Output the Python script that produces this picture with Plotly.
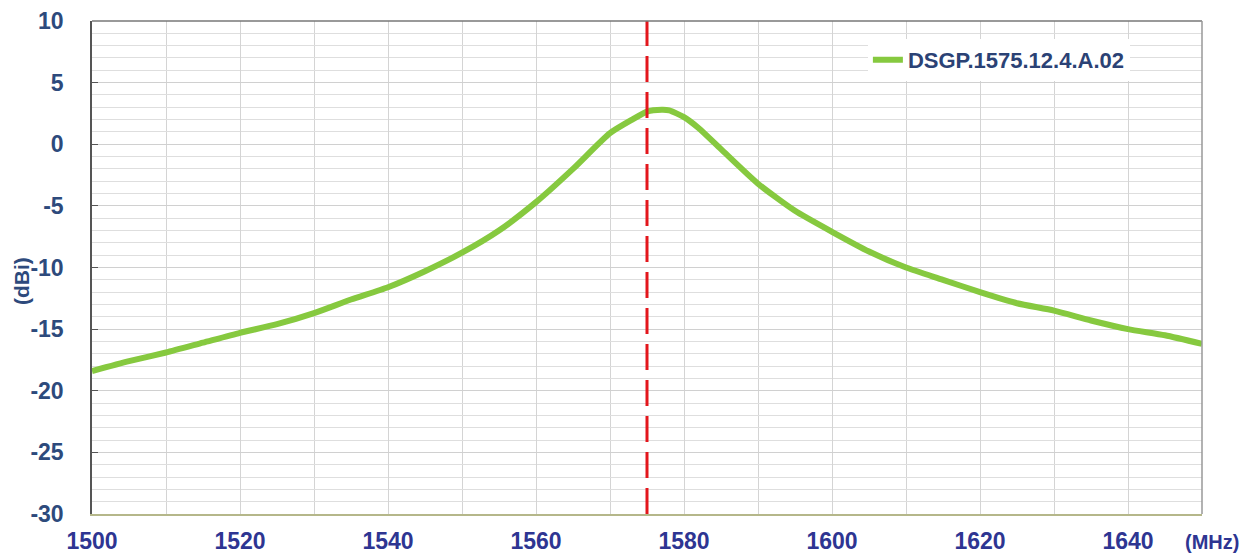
import plotly.graph_objects as go

freq = [1500, 1505, 1510, 1515, 1520, 1525, 1530, 1535, 1540, 1545, 1550, 1555, 1560, 1565, 1570, 1573, 1575, 1577, 1578, 1580, 1582, 1585, 1590, 1595, 1600, 1605, 1610, 1615, 1620, 1625, 1630, 1635, 1640, 1645, 1650]
gain = [-18.4, -17.6, -16.9, -16.1, -15.3, -14.6, -13.7, -12.6, -11.6, -10.3, -8.8, -7.0, -4.7, -2.0, 0.9, 2.0, 2.65, 2.8, 2.75, 2.2, 1.3, -0.4, -3.2, -5.4, -7.1, -8.7, -10.0, -11.0, -12.0, -12.9, -13.5, -14.3, -15.0, -15.5, -16.2]
series_name = "DSGP.1575.12.4.A.02"
center_freq = 1575
x_ticks = [1500, 1520, 1540, 1560, 1580, 1600, 1620, 1640]
y_ticks = [10, 5, 0, -5, -10, -15, -20, -25, -30]

FONT = "Liberation Sans, Arial, sans-serif"

fig = go.Figure()
fig.add_trace(go.Scatter(x=freq, y=gain, mode="lines", name=series_name,
                         line=dict(color="#86c93f", width=6, shape="spline", smoothing=0.6)))
fig.add_shape(type="line", x0=center_freq, x1=center_freq, y0=0, y1=1, xref="x", yref="paper",
              line=dict(color="#e3161c", width=3, dash="26px,10px"))

# page body has an 8px margin, so the figure is sized/offset accordingly
fig.update_layout(
    width=1239, height=547,
    margin=dict(l=84, r=45, t=13, b=41, autoexpand=False),
    paper_bgcolor="white", plot_bgcolor="white",
    font=dict(family=FONT),
    showlegend=True,
    legend=dict(x=0.699, y=0.921, xanchor="left", yanchor="middle", bgcolor="white",
                font=dict(size=22, color="#2b4275", family=FONT, weight="bold"),
                itemwidth=30),
    xaxis=dict(range=[1500, 1650], tickvals=x_ticks, ticktext=[str(v) for v in x_ticks],
               automargin=False,
               showgrid=True, gridcolor="#d4d4d4", gridwidth=1,
               minor=dict(dtick=10, tick0=1500, showgrid=True, gridcolor="#d4d4d4", gridwidth=1),
               showline=True, linecolor="#b5b78a", linewidth=1.5, mirror=False,
               ticks="", ticklabelstandoff=6,
               tickfont=dict(size=23, color="#2e3592", weight="bold"),
               zeroline=False),
    yaxis=dict(range=[-30, 10], tickvals=y_ticks, ticktext=[str(v) for v in y_ticks],
               automargin=False,
               showgrid=True, gridcolor="#d0d0d0", gridwidth=1,
               minor=dict(dtick=1, tick0=0, showgrid=True, gridcolor="#dedede", gridwidth=1),
               showline=True, linecolor="#555555", linewidth=1.5,
               ticks="inside", ticklen=6, tickcolor="#555555",
               ticklabelstandoff=22,
               tickfont=dict(size=23, color="#2d4a7c", weight="bold"),
               zeroline=False),
)
# top and right borders
fig.add_shape(type="line", xref="paper", yref="paper", x0=0, x1=1, y0=1, y1=1, line=dict(color="#777777", width=1.5))
fig.add_shape(type="line", xref="paper", yref="paper", x0=1, x1=1, y0=0, y1=1, line=dict(color="#999999", width=1.5))

fig.add_annotation(text="<b>(MHz)</b>", xref="paper", yref="paper", x=1.0, y=0, xshift=39, yshift=-28,
                   showarrow=False, font=dict(size=20, color="#2e3592", family=FONT),
                   xanchor="right", yanchor="middle")
fig.add_annotation(text="<b>(dBi)</b>", xref="paper", yref="paper", x=0, y=0.4726, xshift=-71,
                   showarrow=False, textangle=-90, font=dict(size=21, color="#2d4a7c", family=FONT),
                   xanchor="center", yanchor="middle")

fig.write_html("out.html")
